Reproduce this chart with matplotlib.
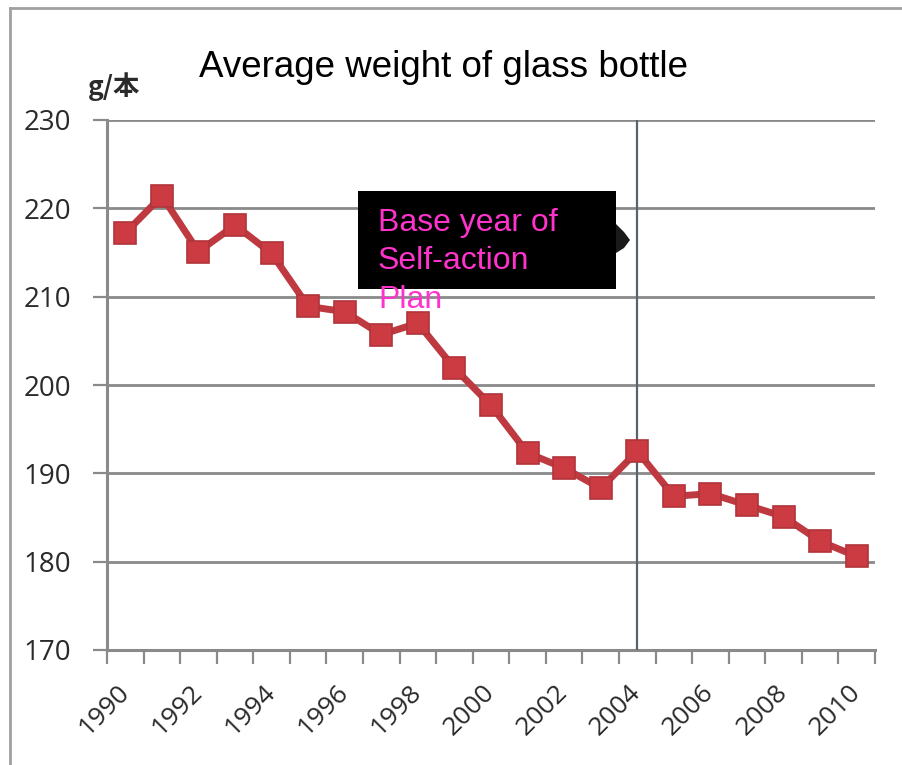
import numpy as np
import matplotlib
matplotlib.use("Agg")
import matplotlib.pyplot as plt
from matplotlib.patches import Rectangle, Polygon
from matplotlib.lines import Line2D

plt.rcParams['font.family'] = ['Open Sans', 'Noto Sans CJK JP', 'DejaVu Sans']

years = list(range(1990, 2011))
weights = [217.2, 221.4, 215.1, 218.1, 214.9, 208.9, 208.3, 205.7, 207.0, 201.9,
           197.7, 192.3, 190.6, 188.3, 192.5, 187.4, 187.7, 186.4, 185.1, 182.3, 180.6]
base_year = 2004
y_ticks = [170, 180, 190, 200, 210, 220, 230]

W, H = 903, 765
fig = plt.figure(figsize=(W / 100, H / 100), dpi=100)
ax = fig.add_axes([107 / W, 1 - 650 / H, 768 / W, 530 / H])

x = np.arange(len(years))
ax.plot(x, weights, color='#bf3a40', lw=5, marker='s', ms=16.5,
        mfc='#cc3a42', mec='#b0343b', mew=1.2, zorder=4, solid_joinstyle='round')

# base year marker line
bx = years.index(base_year)
ax.axvline(bx, color='#56646c', lw=1.6, zorder=3)

ax.set_xlim(-0.5, len(years) - 0.5)
ax.set_ylim(170, 230)
ax.set_yticks(y_ticks)
ax.set_yticklabels([str(v) for v in y_ticks])
ax.grid(axis='y', color='#8a8a8a', lw=2, zorder=1)

ax.set_xticks(x[::2])
ax.set_xticklabels([str(y) for y in years[::2]], rotation=45, ha='right',
                   va='center', rotation_mode='anchor')
ax.set_xticks(np.arange(-0.5, len(years), 1), minor=True)
ax.tick_params(axis='x', which='major', length=0, pad=28, labelsize=19, labelcolor='#2a2a2a')
ax.tick_params(axis='x', which='minor', length=10, width=1.6, color='#8a8a8a', direction='out')
ax.tick_params(axis='y', length=10, width=1.6, color='#8a8a8a', pad=16,
               labelsize=20, labelcolor='#2a2a2a')

for s in ['top', 'right']:
    ax.spines[s].set_visible(False)
for s in ['left', 'bottom']:
    ax.spines[s].set_color('#8a8a8a')
    ax.spines[s].set_linewidth(2.2)

# outer chart frame
fig.add_artist(Line2D([10 / W, 10 / W], [0, 1 - 8 / H], color='#a0a0a0', lw=2))
fig.add_artist(Line2D([10 / W, 1], [1 - 8 / H, 1 - 8 / H], color='#a0a0a0', lw=2))

fig.text(444 / W, 1 - 77 / H, 'Average weight of glass bottle', fontsize=26.5,
         family='Liberation Sans', ha='center', va='baseline', color='black')
fig.text(88 / W, 1 - 95 / H, 'g/本', fontsize=19, fontweight='bold',
         family=['Noto Sans CJK JP'], va='baseline', color='#2a2a2a')

# callout box
fig.add_artist(Rectangle((358 / W, 1 - 289 / H), 258 / W, 98 / H,
                         transform=fig.transFigure, facecolor='black', edgecolor='none'))
ptr = [(616, 224), (624, 232), (630, 240), (624, 248), (616, 253)]
fig.add_artist(Polygon([(px / W, 1 - py / H) for px, py in ptr], closed=True,
                       transform=fig.transFigure, facecolor='#1a1a1a', edgecolor='none'))
fig.text(378 / W, 1 - 208 / H, 'Base year of\nSelf-action\nPlan', fontsize=23,
         family='Liberation Sans', color='#ff33cc', va='top', ha='left', linespacing=1.36)

fig.savefig('out.png', dpi=100)
